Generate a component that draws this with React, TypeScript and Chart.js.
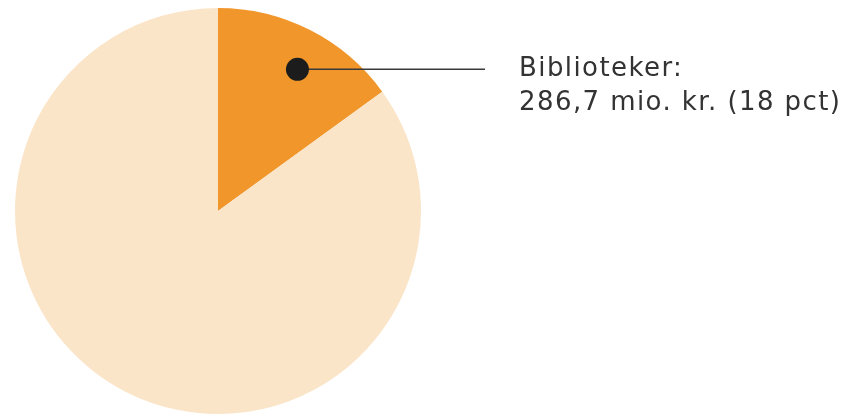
import React, { useEffect, useRef } from "react";
import { Chart, registerables } from "chart.js";

Chart.register(...registerables);

const categories = ["Biblioteker", "Øvrige"];
const values = [286.7, 1625];
const colors = ["#F0962B", "#FBE5C8"];
const labelLines = ["Biblioteker:", "286,7 mio. kr. (18 pct)"];

const calloutPlugin = {
  id: "callout",
  afterDatasetsDraw(chart: any) {
    const meta = chart.getDatasetMeta(0);
    const arc = meta.data[0];
    if (!arc) return;
    const { x, y, startAngle, endAngle, outerRadius } = arc.getProps(
      ["x", "y", "startAngle", "endAngle", "outerRadius"],
      true
    );
    const mid = (startAngle + endAngle) / 2 + 0.04;
    const r = outerRadius * 0.8;
    const dx = x + Math.cos(mid) * r;
    const dy = y + Math.sin(mid) * r;
    const ctx = chart.ctx;
    ctx.save();
    ctx.strokeStyle = "#3a3a3a";
    ctx.lineWidth = 1.5;
    ctx.beginPath();
    ctx.moveTo(dx, dy);
    ctx.lineTo(485, dy);
    ctx.stroke();
    ctx.fillStyle = "#1c1c1c";
    ctx.beginPath();
    ctx.arc(dx, dy, 11.5, 0, Math.PI * 2);
    ctx.fill();
    ctx.fillStyle = "#333333";
    ctx.font = "26px 'DejaVu Sans'";
    ctx.textBaseline = "alphabetic";
    ctx.textAlign = "left";
    const w = ctx.measureText(labelLines[1]).width;
    const spacing = Math.max(0, (321 - w) / (labelLines[1].length - 1));
    (ctx as any).letterSpacing = spacing.toFixed(2) + "px";
    ctx.fillText(labelLines[0], 519, 76);
    ctx.fillText(labelLines[1], 519, 110);
    ctx.restore();
  },
};

export default function App() {
  const ref = useRef<HTMLCanvasElement>(null);
  useEffect(() => {
    const canvas = ref.current!;
    const chart = new Chart(canvas, {
      type: "pie",
      data: {
        labels: categories,
        datasets: [
          {
            data: values,
            backgroundColor: colors,
            borderWidth: 0,
          },
        ],
      },
      options: {
        responsive: false,
        animation: false,
        layout: { padding: { left: 15, right: 430, top: 8, bottom: 4 } },
        plugins: {
          legend: { display: false },
          tooltip: { enabled: false },
        },
      },
      plugins: [calloutPlugin],
    });
    return () => chart.destroy();
  }, []);
  return (
    <div style={{ position: "absolute", left: 0, top: 0, width: 851, height: 418, background: "#fff" }}>
      <canvas ref={ref} width={851} height={418} style={{ width: 851, height: 418 }} />
    </div>
  );
}
